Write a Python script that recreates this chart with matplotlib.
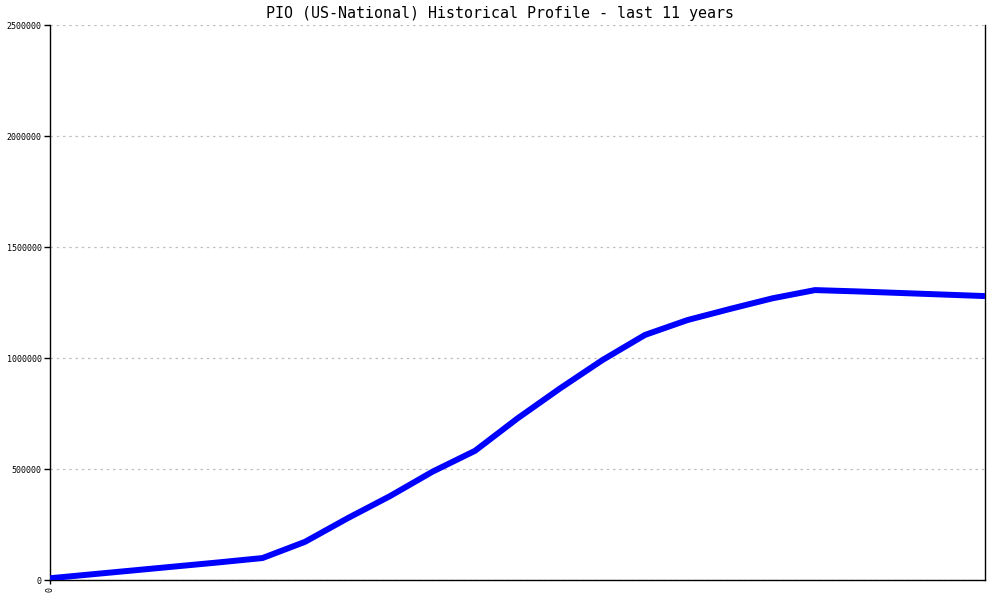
import matplotlib
matplotlib.use('Agg')
import matplotlib.pyplot as plt

# Semi-annual samples over the last 11 years
periods = list(range(23))
values = [8000, 26000, 44000, 62000, 80000, 99000, 172000, 278000, 378000,
          488000, 582000, 728000, 863000, 991000, 1104000, 1171000, 1221000,
          1269000, 1306000, 1300000, 1293000, 1286000, 1279000]
yticks = [0, 500000, 1000000, 1500000, 2000000, 2500000]
title = 'PIO (US-National) Historical Profile - last 11 years'

plt.rcParams['font.family'] = 'DejaVu Sans Mono'

fig = plt.figure(figsize=(10, 6), dpi=100)
ax = fig.add_axes([0.05, 0.0333, 0.935, 0.925])

ax.plot(periods, values, color='#0000ff', linewidth=4.3, solid_capstyle='butt',
        solid_joinstyle='round', zorder=3)

ax.set_xlim(0, 22)
ax.set_ylim(0, 2500000)
ax.set_yticks(yticks)
ax.set_yticklabels([str(v) for v in yticks], fontsize=6)
ax.set_xticks([0])
ax.set_xticklabels(['0'], fontsize=6, rotation=90)
ax.tick_params(axis='y', length=4, width=1, pad=2)
ax.tick_params(axis='x', length=3, width=1, pad=2)

ax.grid(axis='y', color='#c0c0c0', linestyle=(0, (2, 3)), linewidth=0.9)
ax.set_axisbelow(True)

ax.spines['top'].set_visible(False)
for s in ['left', 'bottom', 'right']:
    ax.spines[s].set_linewidth(1)
    ax.spines[s].set_color('black')

fig.text(0.5, 0.978, title, ha='center', va='center', fontsize=10.8)

fig.savefig('out.png', dpi=100)
